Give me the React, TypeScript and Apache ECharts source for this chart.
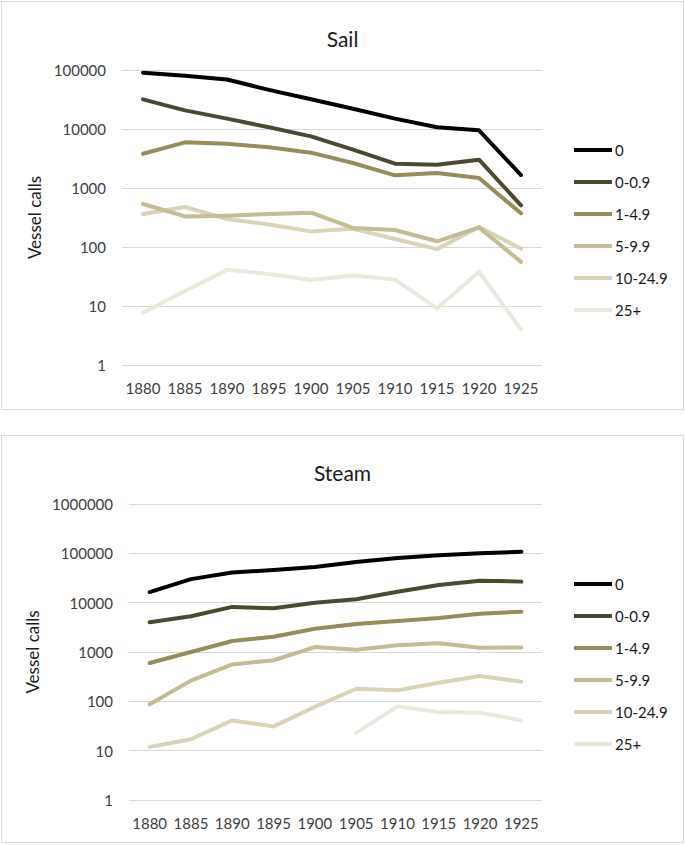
import React, { useEffect, useRef } from "react";
import * as echarts from "echarts";

const years = ["1880", "1885", "1890", "1895", "1900", "1905", "1910", "1915", "1920", "1925"];
const seriesNames = ["0", "0-0.9", "1-4.9", "5-9.9", "10-24.9", "25+"];
const seriesColors = ["#000000", "#4d4930", "#958d5b", "#c4bc92", "#d9d4b9", "#ebe9dd"];

const sail0 = [90000, 80000, 69000, 46000, 32000, 22000, 15000, 10700, 9500, 1660];
const sail009 = [31800, 20700, 15000, 10700, 7500, 4470, 2580, 2480, 3020, 508];
const sail149 = [3800, 5940, 5640, 4890, 3970, 2650, 1640, 1800, 1480, 372];
const sail599 = [535, 330, 340, 362, 382, 210, 194, 125, 215, 56];
const sail1024 = [362, 476, 298, 240, 184, 204, 137, 92, 218, 94];
const sail25 = [7.7, 18, 41, 35, 27.6, 33, 28, 9.1, 38, 4];

const steam0 = [16400, 30000, 41000, 46000, 53000, 67000, 80000, 91000, 100000, 108000];
const steam009 = [4000, 5300, 8200, 7700, 10000, 11700, 16700, 22800, 27900, 26700];
const steam149 = [600, 1000, 1670, 2040, 2970, 3690, 4250, 4880, 5990, 6560];
const steam599 = [87, 263, 560, 680, 1260, 1110, 1365, 1500, 1220, 1240];
const steam1024 = [11.9, 17, 41, 31, 77, 180, 167, 239, 326, 250];
const steam25 = [null, null, null, null, null, 23, 79, 61, 59, 41];

const sailData = [sail0, sail009, sail149, sail599, sail1024, sail25];
const steamData = [steam0, steam009, steam149, steam599, steam1024, steam25];

const FONT = "Lato, 'Noto Sans', sans-serif";
const TEXT = "#404040";

type Cfg = {
  title: string;
  data: (number | null)[][];
  yMax: number;
  gridTop: number;
  gridBottom: number;
  gridLeft: number;
  titleTop: number;
  legendTop: number;
  nameGap: number;
};

function buildOption(c: Cfg): any {
  return {
    animation: false,
    textStyle: { fontFamily: FONT },
    title: {
      text: c.title,
      left: "center",
      top: c.titleTop,
      textStyle: { fontFamily: FONT, fontSize: 21, fontWeight: "normal", color: "#1a1a1a" },
    },
    legend: {
      orient: "vertical",
      left: 569,
      top: c.legendTop,
      icon: "rect",
      itemWidth: 38,
      itemHeight: 4,
      itemGap: 14,
      data: seriesNames,
      textStyle: { fontFamily: FONT, fontSize: 15, color: "#1a1a1a", lineHeight: 18, padding: [0, 0, 0, -2] },
    },
    grid: { left: c.gridLeft, right: 143, top: c.gridTop, bottom: c.gridBottom, containLabel: false },
    xAxis: {
      type: "category",
      data: years,
      boundaryGap: true,
      axisLine: { show: false },
      axisTick: { show: false },
      axisLabel: { fontFamily: FONT, fontSize: 15, color: TEXT, margin: 15, interval: 0 },
    },
    yAxis: {
      type: "log",
      logBase: 10,
      min: 1,
      max: c.yMax,
      name: "Vessel calls",
      nameLocation: "middle",
      nameRotate: 90,
      nameGap: c.nameGap,
      nameTextStyle: { fontFamily: FONT, fontSize: 17, color: "#1a1a1a" },
      axisLine: { show: false },
      axisTick: { show: false },
      axisLabel: {
        fontFamily: FONT,
        fontSize: 15,
        color: TEXT,
        margin: 16,
        formatter: (v: number) => String(Math.round(v)),
      },
      splitLine: { show: true, lineStyle: { color: "#d9d9d9", width: 1 } },
    },
    series: seriesNames.map((n, i) => ({
      name: n,
      type: "line",
      data: c.data[i],
      symbol: "none",
      showSymbol: false,
      connectNulls: false,
      color: seriesColors[i],
      lineStyle: { color: seriesColors[i], width: 4, cap: "round", join: "round" },
      z: 10 - i,
    })),
  };
}

function Chart({ cfg, style }: { cfg: Cfg; style: React.CSSProperties }) {
  const ref = useRef<HTMLDivElement>(null);
  useEffect(() => {
    if (!ref.current) return;
    const chart = echarts.init(ref.current, undefined, { renderer: "svg" });
    chart.setOption(buildOption(cfg));
    return () => chart.dispose();
  }, []);
  return <div ref={ref} style={{ position: "absolute", ...style }} />;
}

export default function App() {
  const sailCfg: Cfg = {
    title: "Sail",
    data: sailData,
    yMax: 100000,
    gridTop: 70,
    gridBottom: 55,
    gridLeft: 122,
    titleTop: 23,
    legendTop: 136,
    nameGap: 79,
  };
  const steamCfg: Cfg = {
    title: "Steam",
    data: steamData,
    yMax: 1000000,
    gridTop: 79,
    gridBottom: 45,
    gridLeft: 129,
    titleTop: 32,
    legendTop: 145,
    nameGap: 86,
  };
  const box: React.CSSProperties = {
    position: "absolute",
    left: 1,
    width: 683,
    border: "1.5px solid #d9d9d9",
    boxSizing: "border-box",
    background: "#fff",
  };
  return (
    <div style={{ position: "fixed", left: 0, top: 0, width: 685, height: 845, background: "#fff" }}>
      <div style={{ ...box, top: 1, height: 409 }} />
      <div style={{ ...box, top: 435, height: 408 }} />
      <Chart cfg={sailCfg} style={{ left: 0, top: 0, width: 685, height: 420 }} />
      <Chart cfg={steamCfg} style={{ left: 0, top: 425, width: 685, height: 420 }} />
    </div>
  );
}
